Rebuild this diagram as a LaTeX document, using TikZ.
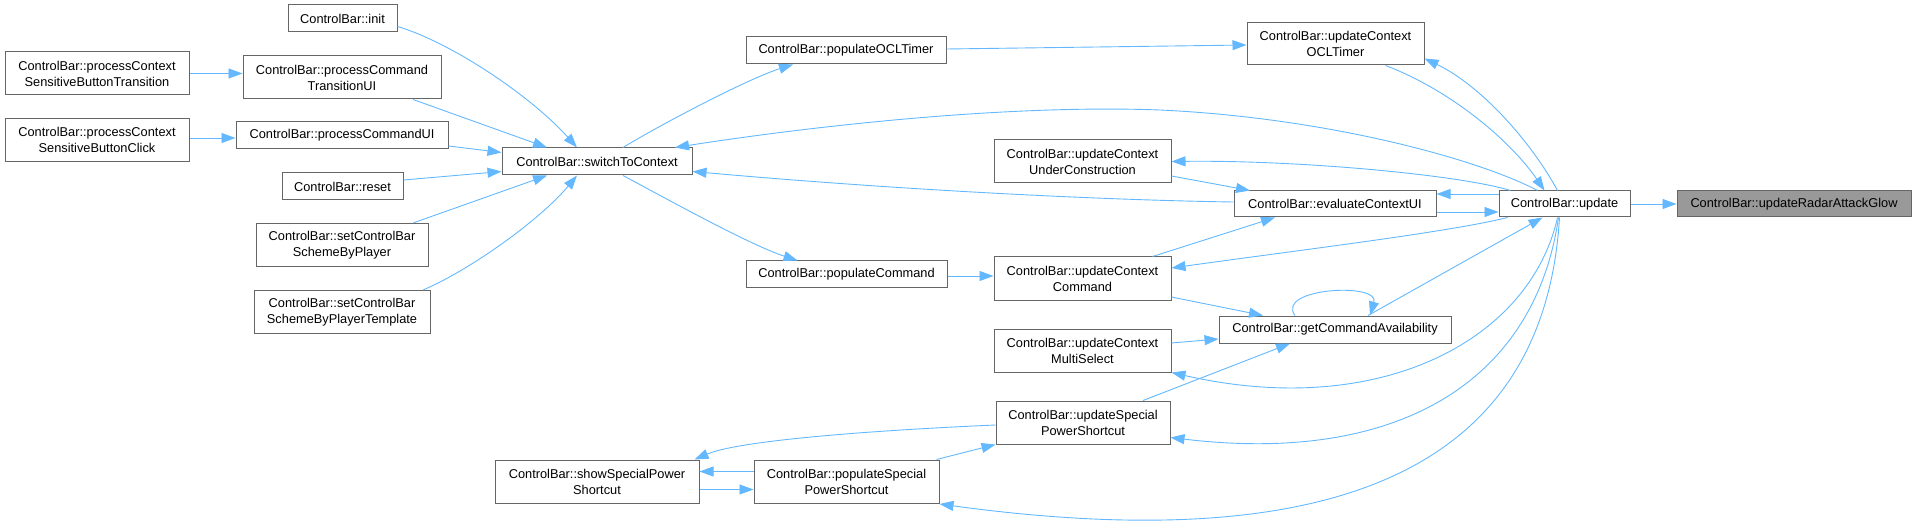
\documentclass[tikz,border=0pt]{standalone}
\usepackage{fontspec}
\setmainfont{Liberation Sans}
\usetikzlibrary{arrows.meta}
\definecolor{edgecol}{HTML}{63B8FF}
\definecolor{boxborder}{HTML}{666666}
\definecolor{rootfill}{HTML}{999999}
\tikzset{
  box/.style={draw=boxborder, fill=white, line width=1pt, inner sep=0pt, align=center,
              font=\fontsize{12.8}{16}\selectfont, text=black},
  edge/.style={draw=edgecol, line width=0.9pt, -{Triangle[length=14pt,width=10pt]}},
}
\begin{document}
\begin{tikzpicture}[x=1pt,y=-1pt]
\useasboundingbox (0,0) rectangle (1916,529);
% nodes
\node[box, minimum width=109, minimum height=27] (init) at (342.5,18.5) {ControlBar::init};
\node[box, minimum width=184, minimum height=43] (pCSBT) at (97,73.5) {ControlBar::processContext\\SensitiveButtonTransition};
\node[box, minimum width=198, minimum height=43] (pCTUI) at (342,77.5) {ControlBar::processCommand\\TransitionUI};
\node[box, minimum width=184, minimum height=43] (pCSBC) at (97,140) {ControlBar::processContext\\SensitiveButtonClick};
\node[box, minimum width=212, minimum height=27] (pCUI) at (342,135.5) {ControlBar::processCommandUI};
\node[box, minimum width=121, minimum height=27] (reset) at (342.5,186.5) {ControlBar::reset};
\node[box, minimum width=172, minimum height=43] (sCBSP) at (342,245) {ControlBar::setControlBar\\SchemeByPlayer};
\node[box, minimum width=176, minimum height=43] (sCBSPT) at (342,312) {ControlBar::setControlBar\\SchemeByPlayerTemplate};
\node[box, minimum width=190, minimum height=27] (switch) at (597,161.5) {ControlBar::switchToContext};
\node[box, minimum width=200, minimum height=27] (popOCL) at (846,50.5) {ControlBar::populateOCLTimer};
\node[box, minimum width=201, minimum height=27] (popCmd) at (846.5,274.5) {ControlBar::populateCommand};
\node[box, minimum width=204, minimum height=43] (showSP) at (597,481.5) {ControlBar::showSpecialPower\\Shortcut};
\node[box, minimum width=185, minimum height=43] (popSP) at (846.5,481.5) {ControlBar::populateSpecial\\PowerShortcut};
\node[box, minimum width=177, minimum height=42] (ucOCL) at (1335.5,44) {ControlBar::updateContext\\OCLTimer};
\node[box, minimum width=177, minimum height=43] (ucUC) at (1082.5,161.5) {ControlBar::updateContext\\UnderConstruction};
\node[box, minimum width=202, minimum height=26] (evalUI) at (1335,204) {ControlBar::evaluateContextUI};
\node[box, minimum width=177, minimum height=43] (ucCmd) at (1082.5,278.5) {ControlBar::updateContext\\Command};
\node[box, minimum width=232, minimum height=27] (getCA) at (1335,329.5) {ControlBar::getCommandAvailability};
\node[box, minimum width=177, minimum height=43] (ucMS) at (1082.5,350.5) {ControlBar::updateContext\\MultiSelect};
\node[box, minimum width=174, minimum height=43] (uSP) at (1083,422.5) {ControlBar::updateSpecial\\PowerShortcut};
\node[box, minimum width=131, minimum height=26] (update) at (1564.5,204) {ControlBar::update};
\node[box, fill=rootfill, minimum width=234, minimum height=26] (radar) at (1794,204) {ControlBar::updateRadarAttackGlow};
% edges into switchToContext
\draw[edge] ([yshift=-8pt]init.east) .. controls (450,42) and (530,95) .. ([xshift=-20pt]switch.north);
\draw[edge] ([xshift=71pt]pCTUI.south) -- ([xshift=-50pt]switch.north);
\draw[edge] ([yshift=-10.5pt]pCUI.east) -- ([yshift=9pt]switch.west);
\draw[edge] ([yshift=6.5pt]reset.east) -- ([yshift=-10pt]switch.west);
\draw[edge] ([xshift=71pt]sCBSP.north) -- ([xshift=-50pt]switch.south);
\draw[edge] ([xshift=81pt]sCBSPT.north) .. controls (470,270) and (540,220) .. ([xshift=-20pt]switch.south);
\draw[edge] (pCSBT.east) -- (pCSBT.east -| pCTUI.west);
\draw[edge] ([yshift=2pt]pCSBC.east) -- ([yshift=2pt]pCSBC.east -| pCUI.west);
% from switchToContext
\draw[edge] ([xshift=26pt]switch.north) .. controls (665,122) and (750,78) .. ([xshift=-53pt]popOCL.south);
\draw[edge] ([xshift=26pt]switch.south) .. controls (665,198) and (750,245) .. ([xshift=-49pt]popCmd.north);
\draw[edge] ([yshift=1.5pt]popOCL.east) -- ([yshift=-1pt]ucOCL.west);
\draw[edge] ([yshift=-1.5pt]popCmd.east) -- ([yshift=2.5pt]ucCmd.west);
% update -> switchToContext
\draw[edge] ([xshift=-27pt]update.north) .. controls (1480,160) and (1330,118) .. (1160,110)
  .. controls (1000,104) and (800,128) .. ([xshift=78pt]switch.north);
\draw[edge] ([yshift=2pt]evalUI.west) .. controls (1100,200) and (900,190) .. ([yshift=-10pt]switch.east);
% around update (top)
\draw[edge] ([xshift=-7pt]update.north) .. controls (1530,140) and (1480,85) .. ([yshift=7pt]ucOCL.south east);
\draw[edge] ([xshift=50pt]ucOCL.south) .. controls (1450,90) and (1510,140) .. ([xshift=-20pt]update.north);
\draw[edge] ([xshift=-54pt]update.north) .. controls (1460,175) and (1300,160) .. (ucUC.east);
\draw[edge] ([yshift=-14.5pt]ucUC.east) -- ([xshift=-85pt]evalUI.north);
\draw[edge] ([yshift=-8pt]evalUI.east) -- ([yshift=-8pt]update.west);
\draw[edge] ([yshift=10pt]update.west) -- ([yshift=10pt]evalUI.east);
% around update (bottom)
\draw[edge] ([xshift=-57pt]update.south) .. controls (1450,232) and (1300,250) .. ([yshift=10.5pt]ucCmd.east);
\draw[edge] ([xshift=70pt]ucCmd.north) -- ([xshift=-60pt]evalUI.south);
\draw[edge] ([yshift=-18.5pt]ucCmd.east) -- ([xshift=-72pt]getCA.north);
\draw[edge] ([xshift=-40pt]getCA.north) .. controls (1275,288) and (1380,282) .. ([xshift=35pt]getCA.north);
\draw[edge] ([xshift=33pt]getCA.north) -- ([xshift=-22pt]update.south);
\draw[edge] ([yshift=7.5pt]ucMS.east) -- ([yshift=-9.5pt]getCA.west);
\draw[edge] ([xshift=-7pt]update.south) .. controls (1530,340) and (1380,420) .. (ucMS.south east);
\draw[edge] ([xshift=60pt]uSP.north) -- ([xshift=-45pt]getCA.south);
\draw[edge] ([xshift=-6pt]update.south) .. controls (1535,380) and (1400,465) .. ([yshift=-15pt]uSP.east);
\draw[edge] ([xshift=-5pt]update.south) .. controls (1545,460) and (1350,560) .. ([yshift=-0.5pt]popSP.south east);
% special power shortcut cluster
\draw[edge] ([yshift=-2.5pt]uSP.west) .. controls (880,430) and (740,440) .. ([xshift=-5pt]showSP.north east);
\draw[edge] ([xshift=-3pt]popSP.north east) -- (uSP.south west);
\draw[edge] ([yshift=10pt]popSP.west) -- ([yshift=10pt]showSP.east);
\draw[edge] ([yshift=-8pt]showSP.east) -- ([yshift=-8pt]popSP.west);
% root
\draw[edge] (update.east) -- (radar.west);
\end{tikzpicture}
\end{document}
